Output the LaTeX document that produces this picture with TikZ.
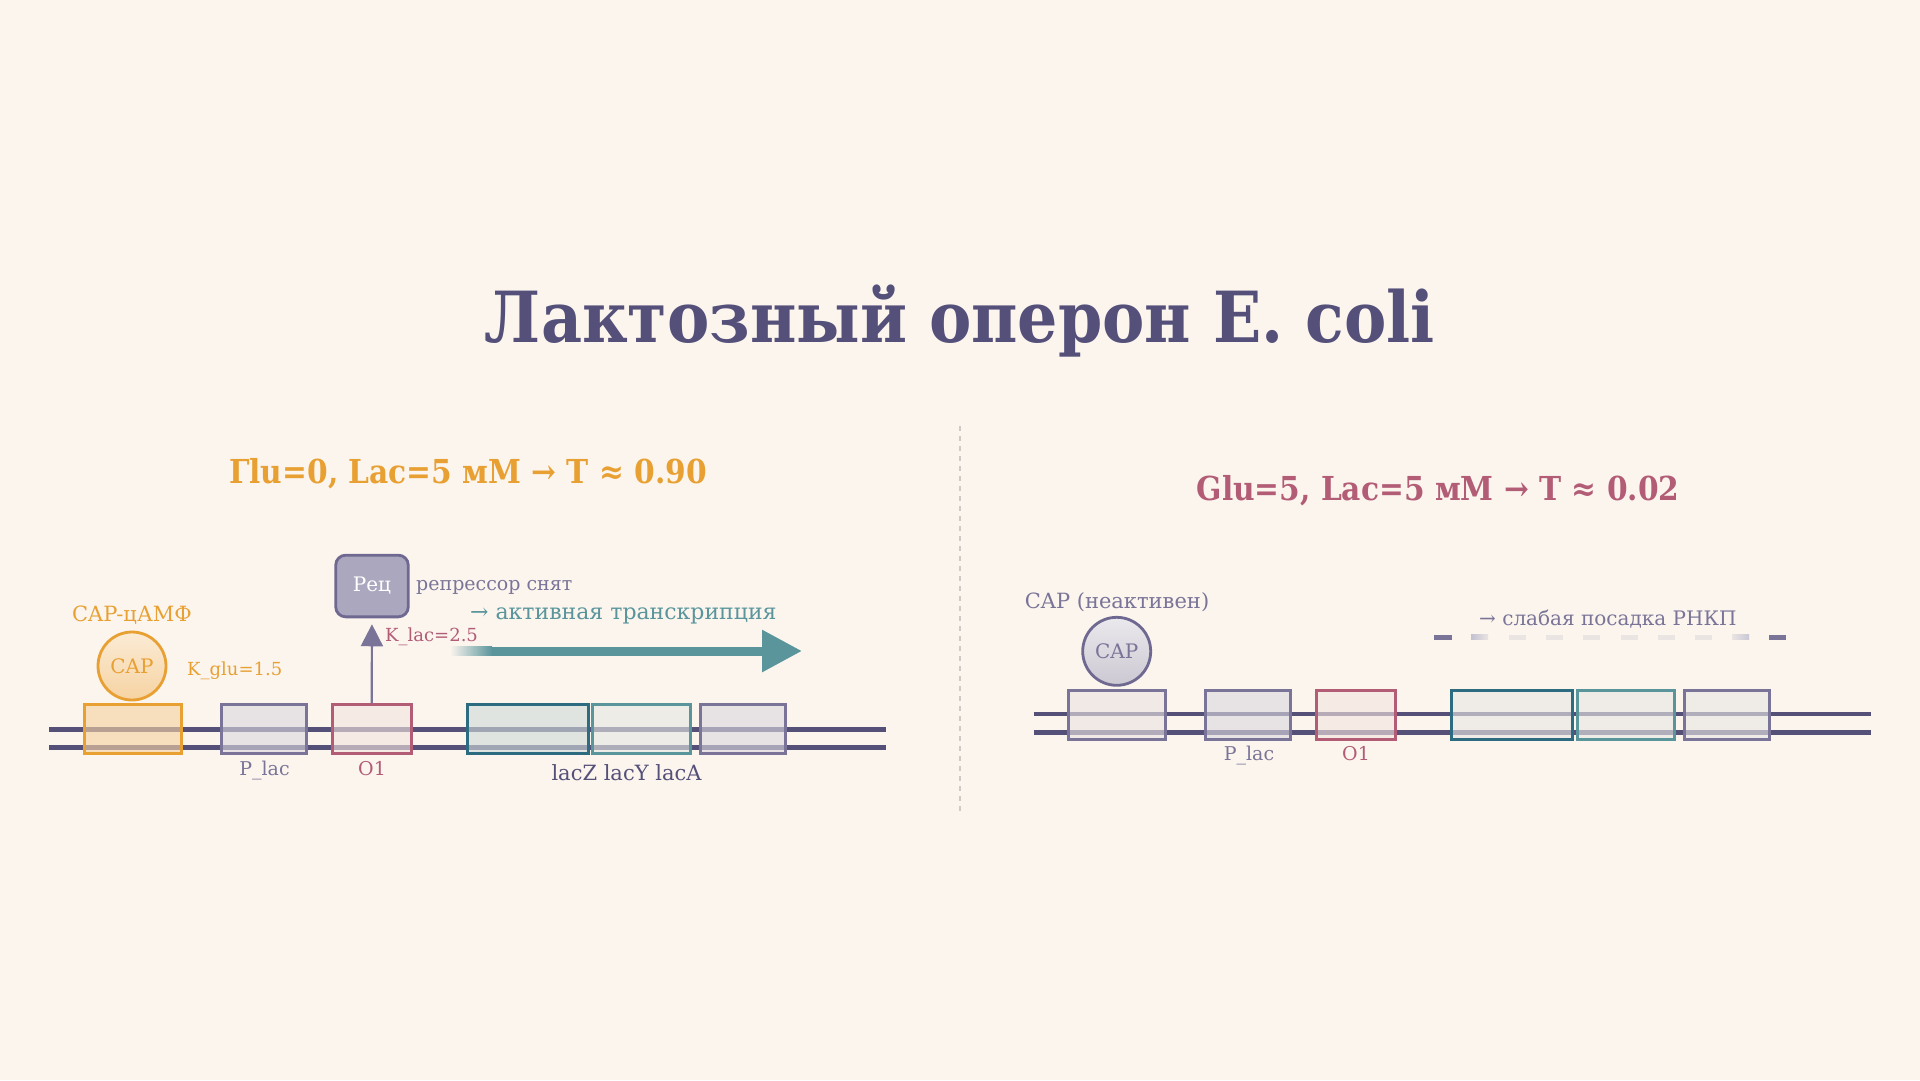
\documentclass[tikz,border=0pt]{standalone}
\usepackage{fontspec}
\setmainfont{DejaVu Serif}
\newfontfamily\condfont{DejaVu Serif Condensed}
\usetikzlibrary{arrows.meta}
\definecolor{bg}{HTML}{FBF5EE}
\definecolor{titlec}{HTML}{54507A}
\definecolor{orangeC}{HTML}{E8A033}
\definecolor{orangeL}{HTML}{F6D3A2}
\definecolor{pinkC}{HTML}{B25C76}
\definecolor{pinkL}{HTML}{F4E4E0}
\definecolor{gp}{HTML}{7A7498}
\definecolor{gpL}{HTML}{DCD8DF}
\definecolor{tealD}{HTML}{2D6B80}
\definecolor{tealDL}{HTML}{D0DBDA}
\definecolor{tealC}{HTML}{5A959C}
\definecolor{tealL}{HTML}{E6E8E4}
\definecolor{dna}{HTML}{545078}
\definecolor{repF}{HTML}{ABA7BE}
\definecolor{repS}{HTML}{6F6991}
\definecolor{capR}{HTML}{CCC8D2}
\definecolor{siteR}{HTML}{ECE3E2}
\definecolor{geneR}{HTML}{E9E8E4}
\definecolor{divc}{HTML}{CFCAC6}
\definecolor{faint}{HTML}{EAE4E2}
\newcommand\fsz[1]{\fontsize{#1}{#1}\selectfont}
\tikzset{
  site/.style={draw, line width=3pt, minimum height=49, inner sep=0, fill opacity=0.62, draw opacity=1},
  lbl/.style={inner sep=0, anchor=base},
  dnaline/.style={draw=dna, line width=4.5pt},
}
\begin{document}
\begin{tikzpicture}[x=1pt,y=-1pt]
\fill[bg] (0,0) rectangle (1920,1080);
\useasboundingbox (0,0) rectangle (1920,1080);

% title and subtitles
\node[lbl, font=\condfont\bfseries\fsz{70.5}, text=titlec] (title) at (960,342) {Лактозный оперон E. coli};
\node[lbl, font=\condfont\bfseries\fsz{33}, text=orangeC] (subL) at (468,483) {Гlu=0, Lac=5 мМ → T ≈ 0.90};
\node[lbl, font=\condfont\bfseries\fsz{33}, text=pinkC] (subR) at (1438,500) {Glu=5, Lac=5 мМ → T ≈ 0.02};

% divider
\coordinate (divT) at (960,426);
\coordinate (divB) at (960,811);
\draw[divc, line width=2pt, dash pattern=on 5pt off 5pt] (divT) -- (divB);

% ---------- left panel ----------
\coordinate (dLa1) at (49,729.3); \coordinate (dLb1) at (886,729.3);
\coordinate (dLa2) at (49,747.3); \coordinate (dLb2) at (886,747.3);
\draw[dnaline] (dLa1) -- (dLb1);
\draw[dnaline] (dLa2) -- (dLb2);

\node[site, draw=orangeC, fill=orangeL, minimum width=97] (capsiteL) at (132.5,729) {};
\node[site, draw=gp, fill=gpL, minimum width=85] (placL) at (264,729) {};
\node[site, draw=pinkC, fill=pinkL, minimum width=79] (o1L) at (371.7,729) {};
\node[site, draw=tealD, fill=tealDL, minimum width=121] (lacZL) at (527.5,729) {};
\node[site, draw=tealC, fill=tealL, minimum width=97.5] (lacYL) at (641.3,729) {};
\node[site, draw=gp, fill=gpL, minimum width=85] (lacAL) at (742.5,729) {};

\node[circle, draw=orangeC, line width=2.8pt, minimum size=68, inner sep=0,
      top color=orangeL!45!white, bottom color=orangeL, text=orangeC, font=\fsz{20}] (capL) at (132,666) {CAP};
\node[lbl, font=\fsz{21}, text=orangeC] (campL) at (132,621.5) {CAP-цАМФ};
\node[lbl, anchor=base west, font=\fsz{18}, text=orangeC] (kgluL) at (187,675) {K\_glu=1.5};

\node[lbl, font=\fsz{19}, text=gp] (placlblL) at (264.5,775) {P\_lac};
\node[lbl, font=\fsz{19}, text=pinkC] (o1lblL) at (372,775) {O1};
\node[lbl, font=\fsz{21}, text=dna] (geneslbl) at (626.5,780) {lacZ lacY lacA};

\node[draw=repS, fill=repF, rounded corners=10pt, line width=2.8pt, minimum width=72.6, minimum height=61.7,
      inner sep=0, text=white, font=\fsz{20}] (rep) at (372,586) {Рец};
\draw[gp, line width=2.2pt, -{Triangle[width=22pt,length=22pt]}, shorten >=6pt] (o1L.north) -- (rep.south);
\node[lbl, anchor=base west, font=\fsz{18}, text=pinkC] (klac) at (385,641.7) {K\_lac=2.5};
\node[lbl, anchor=base west, font=\fsz{19}, text=gp] (repoff) at (416,590) {репрессор снят};
\node[lbl, anchor=base west, font=\fsz{22}, text=tealC] (activ) at (470,619.3) {→ активная транскрипция};

\coordinate (txA) at (450,651);
\coordinate (txB) at (492,651);
\coordinate (txC) at (802,651);
\shade[left color=bg, right color=tealC] (450,646.5) rectangle (492,655.5);
\draw[tealC, line width=9pt, -{Triangle[width=40pt,length=40pt]}] (txB) -- (txC);

% ---------- right panel ----------
\coordinate (dRa1) at (1033.5,714); \coordinate (dRb1) at (1870.7,714);
\coordinate (dRa2) at (1033.5,732.3); \coordinate (dRb2) at (1870.7,732.3);
\draw[dnaline] (dRa1) -- (dRb1);
\draw[dnaline] (dRa2) -- (dRb2);

\node[site, draw=gp, fill=siteR, minimum width=97] (capsiteR) at (1116.7,714.7) {};
\node[site, draw=gp, fill=gpL, minimum width=85] (placR) at (1248,714.7) {};
\node[site, draw=pinkC, fill=pinkL, minimum width=79] (o1R) at (1356,714.7) {};
\node[site, draw=tealD, fill=geneR, minimum width=121] (lacZR) at (1511.7,714.7) {};
\node[site, draw=tealC, fill=geneR, minimum width=97] (lacYR) at (1625.5,714.7) {};
\node[site, draw=gp, fill=geneR, minimum width=85] (lacAR) at (1727.4,714.7) {};

\node[circle, draw=repS, line width=2.8pt, minimum size=68, inner sep=0,
      top color=capR!40!white, bottom color=capR, text=gp, font=\fsz{20}] (capR) at (1116.7,651.3) {CAP};
\node[lbl, font=\fsz{21}, text=gp] (capinact) at (1117,608) {CAP (неактивен)};
\node[lbl, anchor=base west, font=\fsz{20}, text=gp] (weak) at (1479,625) {→ слабая посадка РНКП};

\node[lbl, font=\fsz{19}, text=gp] (placlblR) at (1249,760) {P\_lac};
\node[lbl, font=\fsz{19}, text=pinkC] (o1lblR) at (1356,760) {O1};

% faded dashed line
\fill[gp] (1434,634.5) rectangle (1451.5,639.5);
\fill[gp] (1769,634.5) rectangle (1786,639.5);
\shade[left color=gp!45!white, right color=faint] (1471,634.5) rectangle (1488,639.5);
\shade[left color=faint, right color=gp!40!white] (1732,634.5) rectangle (1749,639.5);
\foreach \k in {2,...,7} {
  \fill[faint] ({1434+37.3*\k},634.5) rectangle ({1451+37.3*\k},639.5);
}
\end{tikzpicture}
\end{document}
